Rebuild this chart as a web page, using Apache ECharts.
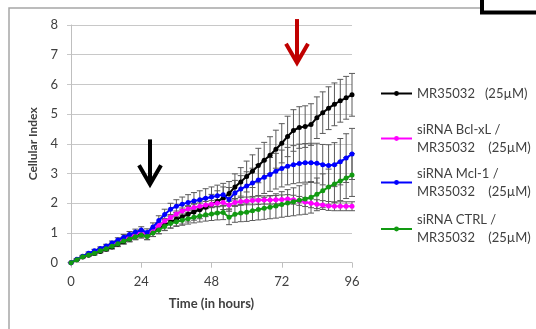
<!DOCTYPE html>
<html>
<head>
<meta charset="utf-8">
<script src="https://cdn.jsdelivr.net/npm/echarts@6/dist/echarts.min.js"></script>
<style>
html,body{margin:0;padding:0;background:#fff;}
#c{width:536px;height:329px;}
</style>
</head>
<body>
<div id="c"></div>
<script>
// ---- data ----
const hours = [0,2,4,6,8,10,12,14,16,18,20,22,24,26,28,30,32,34,36,38,40,42,44,46,48,50,52,54,56,58,60,62,64,66,68,70,72,74,76,78,80,82,84,86,88,90,92,94,96];
const seriesNames = ['MR35032   (25µM)', 'siRNA Bcl-xL /\nMR35032    (25µM)', 'siRNA Mcl-1 /\nMR35032    (25µM)', 'siRNA CTRL /\nMR35032    (25µM)'];
const mrValues = [0,0.1,0.19,0.25,0.31,0.38,0.45,0.53,0.62,0.71,0.8,0.88,0.95,0.9,1.02,1.14,1.27,1.36,1.46,1.54,1.63,1.71,1.78,1.87,1.96,2.06,2.17,2.33,2.55,2.72,2.9,3.08,3.27,3.45,3.62,3.82,4.02,4.25,4.45,4.55,4.58,4.65,4.88,5.05,5.2,5.33,5.45,5.55,5.65];
const bclValues = [0,0.11,0.21,0.28,0.35,0.43,0.51,0.6,0.7,0.8,0.89,0.97,1.04,0.95,1.1,1.25,1.4,1.52,1.64,1.74,1.81,1.86,1.9,1.94,1.97,2.0,2.03,1.94,2.03,2.06,2.08,2.09,2.1,2.11,2.11,2.12,2.13,2.14,2.12,2.08,2.04,2.0,1.97,1.94,1.91,1.9,1.9,1.9,1.9];
const mclValues = [0,0.12,0.22,0.32,0.4,0.48,0.56,0.66,0.76,0.86,0.95,1.03,1.1,1.02,1.2,1.42,1.62,1.8,1.9,1.97,2.03,2.08,2.12,2.17,2.21,2.25,2.29,2.13,2.35,2.48,2.58,2.68,2.78,2.88,2.97,3.08,3.17,3.25,3.3,3.34,3.36,3.36,3.35,3.3,3.27,3.3,3.4,3.52,3.66];
const ctrlValues = [0,0.1,0.2,0.26,0.32,0.4,0.47,0.55,0.64,0.73,0.8,0.87,0.93,0.88,1.0,1.1,1.22,1.32,1.38,1.43,1.48,1.53,1.57,1.61,1.64,1.67,1.69,1.53,1.63,1.67,1.7,1.75,1.79,1.83,1.87,1.91,1.96,2.01,2.05,2.1,2.14,2.2,2.3,2.42,2.55,2.65,2.75,2.85,2.95];
const mrErr = [0,0.02,0.03,0.04,0.05,0.05,0.06,0.07,0.08,0.09,0.1,0.1,0.11,0.12,0.14,0.16,0.18,0.2,0.22,0.24,0.26,0.28,0.3,0.32,0.34,0.36,0.38,0.4,0.44,0.48,0.52,0.55,0.58,0.6,0.62,0.64,0.66,0.68,0.7,0.7,0.7,0.7,0.7,0.7,0.72,0.72,0.72,0.72,0.72];
const bclErr = [0,0.02,0.02,0.03,0.03,0.04,0.04,0.05,0.05,0.06,0.06,0.07,0.07,0.08,0.08,0.09,0.09,0.1,0.1,0.1,0.11,0.11,0.11,0.12,0.12,0.12,0.12,0.13,0.13,0.13,0.13,0.14,0.14,0.14,0.14,0.14,0.15,0.15,0.15,0.15,0.15,0.15,0.15,0.15,0.15,0.15,0.15,0.15,0.15];
const mclErr = [0,0.02,0.03,0.04,0.05,0.05,0.06,0.07,0.08,0.09,0.1,0.1,0.11,0.12,0.14,0.16,0.18,0.2,0.22,0.24,0.26,0.28,0.3,0.32,0.34,0.36,0.38,0.4,0.42,0.45,0.48,0.5,0.52,0.55,0.57,0.6,0.62,0.63,0.64,0.65,0.65,0.66,0.67,0.68,0.7,0.74,0.78,0.82,0.86];
const ctrlErr = [0,0.02,0.03,0.04,0.05,0.05,0.06,0.07,0.08,0.08,0.09,0.1,0.1,0.11,0.12,0.13,0.14,0.15,0.16,0.17,0.18,0.19,0.2,0.21,0.22,0.23,0.24,0.25,0.27,0.29,0.31,0.33,0.35,0.37,0.39,0.41,0.43,0.45,0.47,0.49,0.51,0.53,0.55,0.57,0.6,0.63,0.66,0.69,0.72];
const yTicks = [0,1,2,3,4,5,6,7,8];
const xTicks = [0,24,48,72,96];
// annotation arrows: [hour, tail value, tip value]
const blackArrow = [26.9, 4.15, 2.57];
const redArrow = [77.1, 8.2, 6.66];

const colors = ['#000000', '#ff00ff', '#0000ff', '#129a12'];
const valueSets = [mrValues, bclValues, mclValues, ctrlValues];
const errSets = [mrErr, bclErr, mclErr, ctrlErr];
const font = 'Lato, "Open Sans", sans-serif';
const txt = '#404040';

function errRender(params, api) {
  const x = api.value(0), y = api.value(1), e = api.value(2);
  if (!e) return null;
  const t = api.coord([x, y + e]);
  const b = api.coord([x, y - e]);
  const hw = 3;
  const st = { stroke: '#5a5a5a', lineWidth: 1 };
  return { type: 'group', children: [
    { type: 'line', shape: { x1: t[0], y1: t[1], x2: b[0], y2: b[1] }, style: st },
    { type: 'line', shape: { x1: t[0] - hw, y1: t[1], x2: t[0] + hw, y2: t[1] }, style: st },
    { type: 'line', shape: { x1: b[0] - hw, y1: b[1], x2: b[0] + hw, y2: b[1] }, style: st }
  ]};
}

const series = [];
valueSets.forEach((vals, i) => {
  series.push({
    type: 'custom', silent: true, z: 1,
    renderItem: errRender,
    encode: { x: 0, y: 1 },
    data: hours.map((h, k) => [h, vals[k], errSets[i][k]])
  });
});
valueSets.forEach((vals, i) => {
  series.push({
    name: seriesNames[i], type: 'line', z: 3 + i,
    data: hours.map((h, k) => [h, vals[k]]),
    symbol: 'circle', symbolSize: 5, showSymbol: true,
    lineStyle: { color: colors[i], width: 2 },
    itemStyle: { color: colors[i] },
    animation: false
  });
});

const legendTops = [84.5, 111.5, 155.5, 202];
const legends = seriesNames.map((n, i) => ({
  data: [n], orient: 'vertical', left: 380, top: legendTops[i], padding: 0,
  itemWidth: 31, itemHeight: 6, itemGap: 5, selectedMode: false,
  textStyle: { fontFamily: font, fontSize: 13, color: txt, lineHeight: 18,
    padding: i === 0 ? 0 : [18, 0, 0, 0] }
}));

const chart = echarts.init(document.getElementById('c'), null, { renderer: 'canvas' });
chart.setOption({
  animation: false,
  backgroundColor: '#fff',
  grid: { left: 71, top: 25, width: 281, height: 237.7 },
  legend: legends,
  xAxis: {
    type: 'value', min: xTicks[0], max: xTicks[xTicks.length - 1], interval: 24,
    name: 'Time (in hours)', nameLocation: 'middle', nameGap: 35,
    nameTextStyle: { fontFamily: font, fontSize: 13, fontWeight: 'bold', color: txt },
    axisLine: { lineStyle: { color: '#bfbfbf', width: 1 } },
    axisTick: { show: true, length: 5, lineStyle: { color: '#bfbfbf' } },
    axisLabel: { fontFamily: font, fontSize: 13, color: txt, margin: 13 },
    splitLine: { show: false }
  },
  yAxis: {
    type: 'value', min: yTicks[0], max: yTicks[yTicks.length - 1], interval: 1,
    name: 'Cellular Index', nameLocation: 'middle', nameGap: 29,
    nameTextStyle: { fontFamily: font, fontSize: 12, fontWeight: 'bold', color: txt },
    axisLine: { show: true, lineStyle: { color: '#bfbfbf', width: 1 } },
    axisTick: { show: true, length: 4, lineStyle: { color: '#c8c8c8' } },
    axisLabel: { fontFamily: font, fontSize: 13, color: txt, margin: 13 },
    splitLine: { show: true, lineStyle: { color: '#c8c8c8', width: 1 } }
  },
  series: series
});

function arrowGraphic(a, color) {
  const tail = chart.convertToPixel({ gridIndex: 0 }, [a[0], a[1]]);
  const tip = chart.convertToPixel({ gridIndex: 0 }, [a[0], a[2]]);
  const x = Math.round(tail[0]);
  return {
    type: 'group', children: [
      { type: 'line', shape: { x1: x, y1: tail[1], x2: x, y2: tip[1] - 2 }, style: { stroke: color, lineWidth: 4 } },
      { type: 'polyline', shape: { points: [[x - 11, tip[1] - 21], [x, tip[1] - 2], [x + 11, tip[1] - 21]] },
        style: { stroke: color, lineWidth: 4, fill: null, lineJoin: 'miter' } }
    ]
  };
}

chart.setOption({
  graphic: [
    { type: 'polyline', shape: { points: [[9, 329], [9, 8], [481, 8]] }, style: { stroke: '#a6a6a6', lineWidth: 1.5, fill: null }, z: 100 },
    { type: 'rect', shape: { x: 482, y: -10, width: 80, height: 22.5 }, style: { stroke: '#000', lineWidth: 4, fill: '#fff' }, z: 101 },
    arrowGraphic(blackArrow, '#000000'),
    arrowGraphic(redArrow, '#c00000')
  ]
});
</script>
</body>
</html>
